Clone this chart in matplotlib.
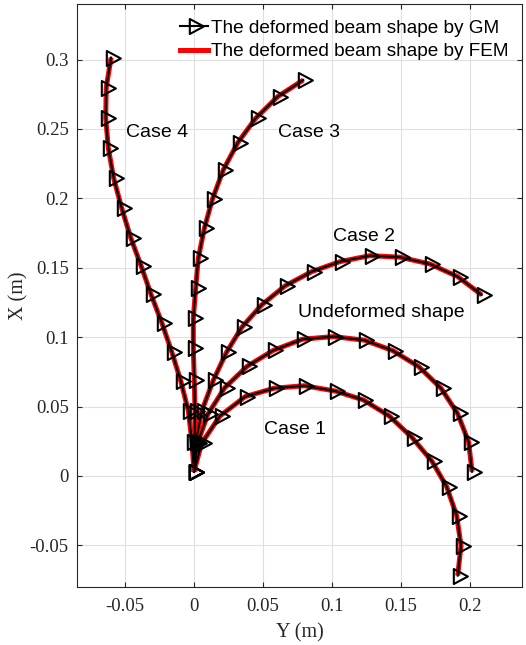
import matplotlib
matplotlib.use("Agg")
import matplotlib.pyplot as plt
from matplotlib.path import Path
from matplotlib.lines import Line2D

plt.rcParams['axes.unicode_minus'] = False

# marker positions (Y = horizontal, X = vertical), metres
y_undef = [0, 0.0025, 0.0100, 0.0222, 0.0385, 0.0575, 0.0785, 0.1010, 0.1235,
           0.1440, 0.1628, 0.1790, 0.1910, 0.1990, 0.2015]
x_undef = [0.003, 0.0235, 0.0445, 0.0635, 0.0790, 0.0905, 0.0985, 0.1004, 0.0978,
           0.0903, 0.0788, 0.0632, 0.0450, 0.0245, 0.003]

y_case1 = [0, 0.0055, 0.0188, 0.0370, 0.0580, 0.0799, 0.1022, 0.1227, 0.1415,
           0.1580, 0.1725, 0.1831, 0.1904, 0.1935, 0.1911]
x_case1 = [0.003, 0.0235, 0.0432, 0.0571, 0.0632, 0.0650, 0.0612, 0.0548, 0.0432,
           0.0277, 0.0105, -0.0077, -0.0288, -0.0502, -0.0718]

y_case2 = [0, 0.0013, 0.0055, 0.0140, 0.0235, 0.0346, 0.0490, 0.0659, 0.0853,
           0.1058, 0.1275, 0.1493, 0.1710, 0.1911, 0.2085]
x_case2 = [0.003, 0.0245, 0.0465, 0.0690, 0.0890, 0.1071, 0.1232, 0.1369, 0.1472,
           0.1544, 0.1587, 0.1576, 0.1527, 0.1436, 0.1304]

y_case3 = [0, 0.0005, 0.0007, 0.0002, -0.0005, -0.0005, 0.0012, 0.0031, 0.0075,
           0.0133, 0.0212, 0.0317, 0.0447, 0.0607, 0.0792]
x_case3 = [0.003, 0.0245, 0.0468, 0.0692, 0.0920, 0.1136, 0.1352, 0.1568, 0.1785,
           0.1993, 0.2205, 0.2401, 0.2577, 0.2733, 0.2853]

y_case4 = [0, -0.0015, -0.0041, -0.0096, -0.0162, -0.0234, -0.0312, -0.0384, -0.0459,
           -0.0524, -0.0582, -0.0621, -0.0640, -0.0636, -0.0601]
x_case4 = [0.003, 0.0245, 0.0468, 0.0684, 0.0896, 0.1105, 0.1309, 0.1515, 0.1717,
           0.1929, 0.2145, 0.2361, 0.2577, 0.2798, 0.3014]

curves = [(y_undef, x_undef), (y_case1, x_case1), (y_case2, x_case2),
          (y_case3, x_case3), (y_case4, x_case4)]

labels = ["Case 4", "Case 3", "Case 2", "Undeformed shape", "Case 1"]
label_pos = [(-0.049, 0.2445), (0.0607, 0.2445), (0.1005, 0.1695),
             (0.0756, 0.1148), (0.0507, 0.0303)]

xticks = [-0.05, 0, 0.05, 0.1, 0.15, 0.2]
xtick_labels = ["-0.05", "0", "0.05", "0.1", "0.15", "0.2"]
yticks = [-0.05, 0, 0.05, 0.1, 0.15, 0.2, 0.25, 0.3]
ytick_labels = ["-0.05", "0", "0.05", "0.1", "0.15", "0.2", "0.25", "0.3"]

# right-pointing triangle with its centroid on the data point (like MATLAB '>')
tri = Path([(-1, 1.6), (-1, -1.6), (2, 0), (-1, 1.6)],
           [Path.MOVETO, Path.LINETO, Path.LINETO, Path.CLOSEPOLY])

W, H = 526, 645
fig = plt.figure(figsize=(W / 100, H / 100), dpi=100)
ax = fig.add_axes([77 / W, (H - 587) / H, 445 / W, 583 / H])

dark = '#262626'
serif = 'Liberation Serif'
sans = 'Liberation Sans'

for yy, xx in curves:
    ax.plot(yy, xx, color='red', lw=3.6, solid_capstyle='butt', zorder=2)
for yy, xx in curves:
    ax.plot(yy, xx, color='black', lw=1.5, marker=tri, ms=13.5,
            mfc='none', mec='black', mew=1.5, zorder=3)

for txt, (px, py) in zip(labels, label_pos):
    ax.text(px, py, txt, family=sans, fontsize=14, color='black',
            ha='left', va='baseline', zorder=4)

ax.set_xlim(-0.0848, 0.2377)
ax.set_ylim(-0.08, 0.34)
ax.set_xticks(xticks)
ax.set_xticklabels(xtick_labels, family=serif, fontsize=13.5, color=dark)
ax.set_yticks(yticks)
ax.set_yticklabels(ytick_labels, family=serif, fontsize=13.5, color=dark)
ax.tick_params(direction='in', length=3.5, width=0.8, color=dark,
               top=True, right=True)
ax.tick_params(axis='x', pad=8)
ax.tick_params(axis='y', pad=6)
ax.grid(True, color='#dfdfdf', lw=0.8)
ax.set_axisbelow(True)
for s in ax.spines.values():
    s.set_color(dark)
    s.set_linewidth(0.8)

ax.set_xlabel("Y (m)", family=serif, fontsize=14.5, color=dark, labelpad=6)
ax.set_ylabel("X (m)", family=serif, fontsize=14.5, color=dark, labelpad=1)

h_gm = Line2D([], [], color='black', lw=1.5, marker=tri, ms=13.5,
              mfc='none', mec='black', mew=1.5)
h_fem = Line2D([], [], color='red', lw=3.6)
ax.legend([h_gm, h_fem], ["The deformed beam shape by GM",
                          "The deformed beam shape by FEM"],
          loc='upper left', bbox_to_anchor=(0.2315, 0.973), frameon=False,
          borderaxespad=0, borderpad=0, handlelength=1.45, handletextpad=0.2,
          labelspacing=0.32, prop={'family': sans, 'size': 13.7})

fig.savefig("out.png", dpi=100)
